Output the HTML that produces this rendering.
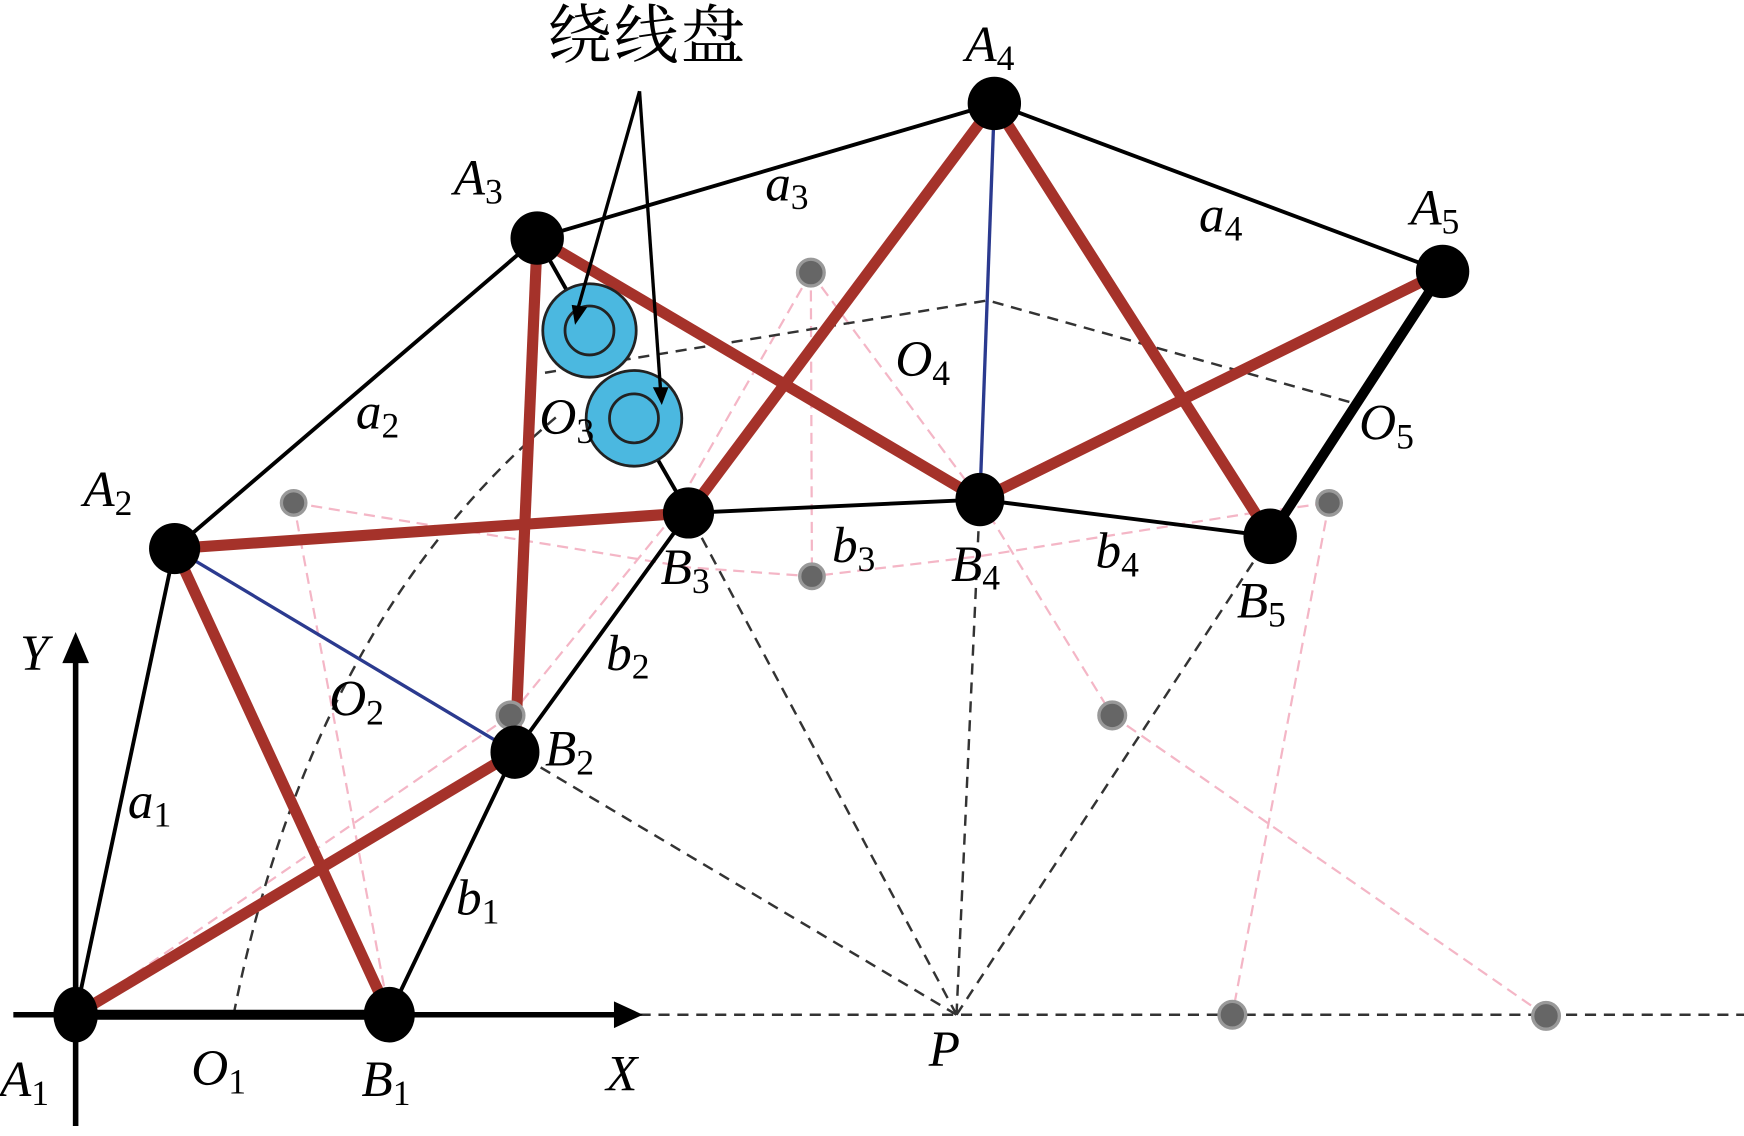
<!DOCTYPE html>
<html><head><meta charset="utf-8"><style>
html,body{margin:0;padding:0;background:#fff;}
svg{display:block}
text{font-family:"Liberation Serif","Noto Serif CJK SC",serif;font-style:italic;fill:#000;}
</style></head><body>
<svg width="1744" height="1136" viewBox="0 0 1568 1021" preserveAspectRatio="none" xmlns="http://www.w3.org/2000/svg">
<!-- pink dashed -->
<g stroke="#f4b6c6" stroke-width="2" stroke-dasharray="10,6" fill="none">
<line x1="264" y1="452" x2="350" y2="912"/>
<path d="M264,452 L620,510 L730,518 L880,500 L1120,462 L1195,452"/>
<line x1="729" y1="245" x2="730" y2="518"/>
<line x1="729" y1="245" x2="881" y2="449"/>
<line x1="729" y1="245" x2="600" y2="470"/>
<line x1="459" y1="643" x2="68" y2="912"/>
<line x1="459" y1="643" x2="600" y2="470"/>
<line x1="881" y1="449" x2="1000" y2="643"/>
<line x1="1000" y1="643" x2="1390" y2="913"/>
<line x1="1195" y1="452" x2="1108" y2="912"/>
</g>
<!-- black dashed -->
<g stroke="#333" stroke-width="2.2" stroke-dasharray="10,7" fill="none">
<line x1="575" y1="912" x2="1568" y2="912"/>
<line x1="860" y1="912" x2="463" y2="676"/>
<line x1="860" y1="912" x2="619" y2="461"/>
<line x1="860" y1="912" x2="881" y2="449"/>
<line x1="860" y1="912" x2="1142" y2="482"/>
<path d="M210,912 Q280,560 500,375"/>
<path d="M490,335 L888,270 L1216,362"/>
</g>
<!-- black links -->
<g stroke="#000" stroke-width="3.5" fill="none">
<line x1="68" y1="912" x2="157" y2="493"/>
<line x1="157" y1="493" x2="483" y2="214"/>
<line x1="483" y1="214" x2="894" y2="93"/>
<line x1="894" y1="93" x2="1297" y2="244"/>
<line x1="1142" y1="482" x2="881" y2="449"/>
<line x1="881" y1="449" x2="619" y2="461"/>
<line x1="619" y1="461" x2="463" y2="676"/>
<line x1="463" y1="676" x2="350" y2="912"/>
<line x1="483" y1="214" x2="530" y2="297"/>
<line x1="570" y1="376" x2="619" y2="461"/>
</g>
<line x1="1297" y1="244" x2="1142" y2="482" stroke="#000" stroke-width="9"/>
<line x1="68" y1="912" x2="350" y2="912" stroke="#000" stroke-width="9"/>
<!-- blue -->
<line x1="157" y1="493" x2="463" y2="676" stroke="#2b3a8f" stroke-width="3"/>
<line x1="894" y1="93" x2="881" y2="449" stroke="#2b3a8f" stroke-width="3"/>
<!-- red -->
<g stroke="#a5322a" stroke-width="10" fill="none">
<line x1="68" y1="912" x2="463" y2="676"/>
<line x1="157" y1="493" x2="350" y2="912"/>
<line x1="157" y1="493" x2="619" y2="461"/>
<line x1="483" y1="214" x2="463" y2="676"/>
<line x1="483" y1="214" x2="881" y2="449"/>
<line x1="894" y1="93" x2="619" y2="461"/>
<line x1="894" y1="93" x2="1142" y2="482"/>
<line x1="1297" y1="244" x2="881" y2="449"/>
</g>
<!-- axes -->
<line x1="12" y1="912" x2="555" y2="912" stroke="#000" stroke-width="5"/>
<polygon points="552,900 578,912 552,924" fill="#000"/>
<line x1="68" y1="1012" x2="68" y2="592" stroke="#000" stroke-width="5"/>
<polygon points="56,596 68,568 80,596" fill="#000"/>
<!-- gray dots -->
<g fill="#666" stroke="#999" stroke-width="3">
<circle cx="729" cy="245" r="12"/><circle cx="264" cy="452" r="11"/><circle cx="730" cy="518" r="11"/>
<circle cx="459" cy="643" r="12"/><circle cx="1000" cy="643" r="12"/><circle cx="1195" cy="452" r="11"/>
<circle cx="1108" cy="912" r="12"/><circle cx="1390" cy="913" r="12"/>
</g>
<!-- wire discs -->
<g fill="#4bb8e0" stroke="#222" stroke-width="2.5">
<circle cx="530" cy="297" r="42"/><circle cx="530" cy="297" r="22"/>
<circle cx="570" cy="376" r="43"/><circle cx="570" cy="376" r="22"/>
</g>
<!-- joints -->
<g fill="#000">
<ellipse cx="68" cy="912" rx="20" ry="25"/><ellipse cx="350" cy="912" rx="23" ry="25"/>
<circle cx="157" cy="493" r="23"/><ellipse cx="463" cy="676" rx="22" ry="24"/>
<circle cx="483" cy="214" r="24"/><circle cx="619" cy="461" r="23"/>
<circle cx="894" cy="93" r="24"/><ellipse cx="881" cy="449" rx="22" ry="24"/>
<ellipse cx="1297" cy="244" rx="24" ry="24"/><ellipse cx="1142" cy="482" rx="24" ry="25"/>
</g>
<!-- arrows -->
<g stroke="#000" stroke-width="3" fill="none">
<line x1="575" y1="82" x2="520" y2="276"/>
<line x1="575" y1="82" x2="594" y2="352"/>
</g>
<polygon points="514,274 528,276 517,292" fill="#000"/>
<polygon points="587,348 601,348 595,364" fill="#000"/>
<text x="492" y="52" font-size="58" style="font-style:normal" textLength="178">绕线盘</text>
<!-- labels -->
<g font-size="46">
<text x="0" y="985">A<tspan font-size="32" dy="8" style="font-style:normal">1</tspan></text>
<text x="172" y="975">O<tspan font-size="32" dy="8" style="font-style:normal">1</tspan></text>
<text x="325" y="985">B<tspan font-size="32" dy="8" style="font-style:normal">1</tspan></text>
<text x="545" y="980">X</text>
<text x="835" y="958">P</text>
<text x="18" y="602">Y</text>
<text x="115" y="735">a<tspan font-size="32" dy="8" style="font-style:normal">1</tspan></text>
<text x="410" y="822">b<tspan font-size="32" dy="8" style="font-style:normal">1</tspan></text>
<text x="296" y="643">O<tspan font-size="32" dy="8" style="font-style:normal">2</tspan></text>
<text x="490" y="688">B<tspan font-size="32" dy="8" style="font-style:normal">2</tspan></text>
<text x="545" y="602">b<tspan font-size="32" dy="8" style="font-style:normal">2</tspan></text>
<text x="75" y="455">A<tspan font-size="32" dy="8" style="font-style:normal">2</tspan></text>
<text x="320" y="385">a<tspan font-size="32" dy="8" style="font-style:normal">2</tspan></text>
<text x="408" y="175">A<tspan font-size="32" dy="8" style="font-style:normal">3</tspan></text>
<text x="485" y="390">O<tspan font-size="32" dy="8" style="font-style:normal">3</tspan></text>
<text x="594" y="525">B<tspan font-size="32" dy="8" style="font-style:normal">3</tspan></text>
<text x="748" y="505">b<tspan font-size="32" dy="8" style="font-style:normal">3</tspan></text>
<text x="688" y="180">a<tspan font-size="32" dy="8" style="font-style:normal">3</tspan></text>
<text x="868" y="55">A<tspan font-size="32" dy="8" style="font-style:normal">4</tspan></text>
<text x="805" y="338">O<tspan font-size="32" dy="8" style="font-style:normal">4</tspan></text>
<text x="855" y="522">B<tspan font-size="32" dy="8" style="font-style:normal">4</tspan></text>
<text x="985" y="510">b<tspan font-size="32" dy="8" style="font-style:normal">4</tspan></text>
<text x="1078" y="208">a<tspan font-size="32" dy="8" style="font-style:normal">4</tspan></text>
<text x="1268" y="202">A<tspan font-size="32" dy="8" style="font-style:normal">5</tspan></text>
<text x="1222" y="395">O<tspan font-size="32" dy="8" style="font-style:normal">5</tspan></text>
<text x="1112" y="555">B<tspan font-size="32" dy="8" style="font-style:normal">5</tspan></text>
</g>
</svg>
</body></html>
